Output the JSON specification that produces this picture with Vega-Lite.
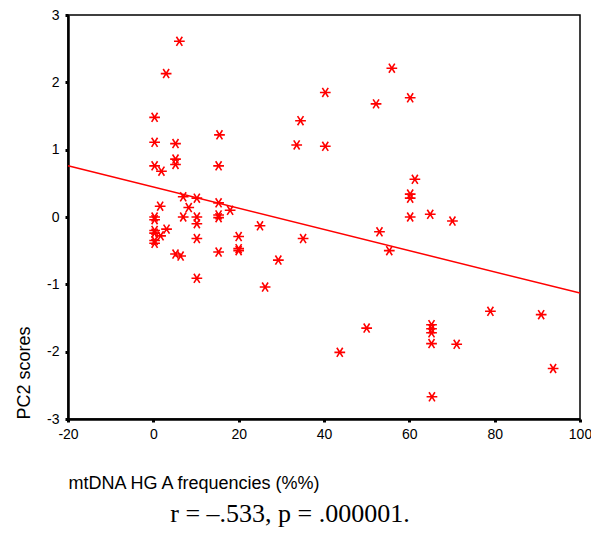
{
  "$schema": "https://vega.github.io/schema/vega-lite/v6.json",
  "width": 512,
  "height": 404,
  "autosize": {"type": "none"},
  "padding": {"left": 68, "top": 15, "right": 11, "bottom": 114},
  "background": "white",
  "config": {
    "view": {"stroke": "#000000", "strokeWidth": 1.5},
    "axis": {
      "grid": false,
      "domainColor": "#000000",
      "domainWidth": 2.5,
      "tickColor": "#000000",
      "tickSize": 3,
      "tickWidth": 3,
      "labelFont": "Liberation Sans",
      "labelFontSize": 14,
      "labelColor": "#000000",
      "labelFlush": false,
      "labelOverlap": false,
      "labelExpr": "'' + datum.value",
      "titleFont": "Liberation Sans",
      "titleFontSize": 18,
      "titleFontWeight": "normal",
      "titleColor": "#000000"
    }
  },
  "title": {
    "text": "r = –.533, p = .000001.",
    "orient": "bottom",
    "anchor": "middle",
    "frame": "group",
    "font": "Liberation Serif",
    "fontSize": 26,
    "fontWeight": "normal",
    "color": "#000000",
    "offset": 9,
    "dx": -34
  },
  "layer": [
    {
      "data": {"values": [
        {"x": 6.1, "y": 2.61}, {"x": 3.0, "y": 2.13}, {"x": 0.3, "y": 1.48}, {"x": 15.5, "y": 1.22},
        {"x": 0.3, "y": 1.11}, {"x": 5.2, "y": 1.09}, {"x": 5.2, "y": 0.86}, {"x": 5.2, "y": 0.78},
        {"x": 0.3, "y": 0.76}, {"x": 1.9, "y": 0.68}, {"x": 15.3, "y": 0.76}, {"x": 7.0, "y": 0.30},
        {"x": 10.2, "y": 0.28}, {"x": 8.3, "y": 0.14}, {"x": 1.6, "y": 0.16}, {"x": 15.3, "y": 0.21},
        {"x": 18.0, "y": 0.10}, {"x": 0.3, "y": 0.0}, {"x": 0.3, "y": -0.04}, {"x": 7.0, "y": 0.0},
        {"x": 10.2, "y": 0.0}, {"x": 10.2, "y": -0.1}, {"x": 15.3, "y": 0.03}, {"x": 15.3, "y": -0.01},
        {"x": 3.1, "y": -0.18}, {"x": 0.3, "y": -0.20}, {"x": 0.3, "y": -0.24}, {"x": 1.7, "y": -0.28},
        {"x": 0.3, "y": -0.35}, {"x": 0.3, "y": -0.39}, {"x": 10.2, "y": -0.32}, {"x": 20.0, "y": -0.29},
        {"x": 20.0, "y": -0.47}, {"x": 20.0, "y": -0.50}, {"x": 15.3, "y": -0.52}, {"x": 5.2, "y": -0.55},
        {"x": 6.4, "y": -0.58}, {"x": 25.0, "y": -0.13}, {"x": 10.2, "y": -0.91}, {"x": 29.3, "y": -0.64},
        {"x": 26.2, "y": -1.04}, {"x": 55.9, "y": 2.21}, {"x": 40.3, "y": 1.85}, {"x": 52.2, "y": 1.68},
        {"x": 60.2, "y": 1.77}, {"x": 34.5, "y": 1.43}, {"x": 33.6, "y": 1.07}, {"x": 40.3, "y": 1.05},
        {"x": 61.3, "y": 0.56}, {"x": 60.2, "y": 0.34}, {"x": 60.2, "y": 0.28}, {"x": 60.2, "y": 0.0},
        {"x": 64.9, "y": 0.04}, {"x": 70.1, "y": -0.06}, {"x": 53.0, "y": -0.22}, {"x": 55.3, "y": -0.50},
        {"x": 35.1, "y": -0.32}, {"x": 50.0, "y": -1.65}, {"x": 43.7, "y": -2.01}, {"x": 65.2, "y": -1.60},
        {"x": 65.2, "y": -1.66}, {"x": 65.2, "y": -1.72}, {"x": 65.2, "y": -1.88}, {"x": 65.3, "y": -2.67},
        {"x": 71.1, "y": -1.89}, {"x": 79.0, "y": -1.40}, {"x": 90.9, "y": -1.45}, {"x": 93.7, "y": -2.25}
      ]},
      "mark": {
        "type": "point",
        "shape": "M-1,0L1,0M-0.55,-0.85L0.55,0.85M-0.55,0.85L0.55,-0.85",
        "filled": false,
        "stroke": "#ff0000",
        "strokeWidth": 1.6,
        "size": 115,
        "opacity": 1
      },
      "encoding": {
        "x": {
          "field": "x", "type": "quantitative",
          "scale": {"domain": [-20, 100], "nice": false, "zero": false},
          "axis": {
            "values": [-20, 0, 20, 40, 60, 80, 100],
            "labelPadding": 5,
            "title": "mtDNA HG A frequencies (%%)",
            "titleAnchor": "start",
            "titleAlign": "left",
            "titleBaseline": "middle",
            "titleX": 0,
            "titleY": 64
          }
        },
        "y": {
          "field": "y", "type": "quantitative",
          "scale": {"domain": [-3, 3], "nice": false, "zero": false},
          "axis": {
            "values": [-3, -2, -1, 0, 1, 2, 3],
            "labelPadding": 6,
            "title": "PC2 scores",
            "titleAngle": -90,
            "titleAlign": "left",
            "titleBaseline": "middle",
            "titleX": -44,
            "titleY": 404
          }
        }
      }
    },
    {
      "data": {"values": [{"x": -20, "y": 0.76}, {"x": 100, "y": -1.13}]},
      "mark": {"type": "line", "color": "#ff0000", "strokeWidth": 1.5},
      "encoding": {
        "x": {"field": "x", "type": "quantitative"},
        "y": {"field": "y", "type": "quantitative"}
      }
    }
  ]
}
